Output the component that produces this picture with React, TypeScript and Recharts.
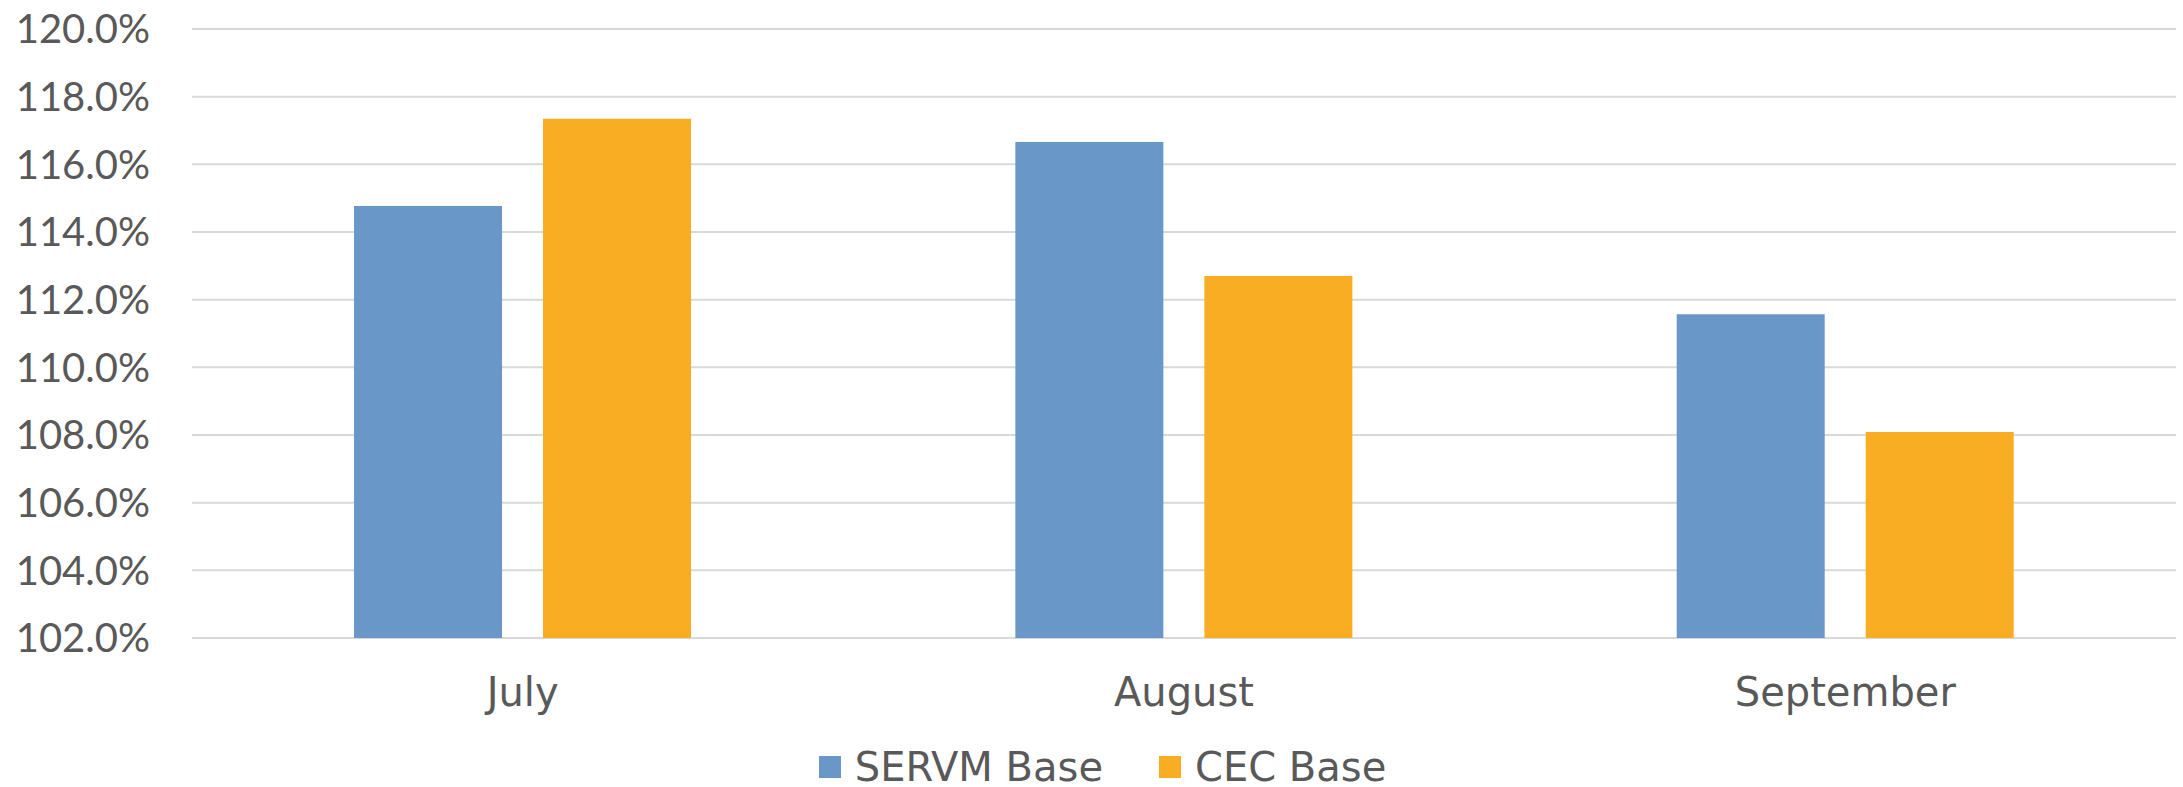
import { BarChart, Bar, XAxis, YAxis, CartesianGrid, Legend } from 'recharts';

const months = ['July', 'August', 'September'];
const seriesNames = ['SERVM Base', 'CEC Base'];
const servmBase = [1.1477, 1.1666, 1.1157];
const cecBase = [1.1735, 1.127, 1.0809];
const yTicks = [1.02, 1.04, 1.06, 1.08, 1.1, 1.12, 1.14, 1.16, 1.18, 1.2];

const data = months.map((month, i) => ({
  month,
  servm: servmBase[i],
  cec: cecBase[i],
}));

const FONT = 'Lato, "Open Sans", sans-serif';
const WIDE_FONT = '"DejaVu Sans", sans-serif';
const TEXT = '#595959';

const formatPct = (v: number) => `${(v * 100).toFixed(1)}%`;

// recharts 3 sorts legend items by name, put them back in series order
function LegendContent(props: any) {
  const items = [...(props.payload || [])].sort(
    (a: any, b: any) => seriesNames.indexOf(a.value) - seriesNames.indexOf(b.value)
  );
  return (
    <div
      style={{
        display: 'flex',
        justifyContent: 'center',
        alignItems: 'center',
        height: 40,
        paddingLeft: 29,
        fontFamily: WIDE_FONT,
        fontSize: 40,
        color: TEXT,
      }}
    >
      {items.map((item: any, i: number) => (
        <div key={i} style={{ display: 'flex', alignItems: 'center', marginRight: i === 0 ? 56 : 0 }}>
          <span style={{ width: 22, height: 22, background: item.color, display: 'inline-block', marginRight: 14 }} />
          <span style={{ lineHeight: '40px' }}>{item.value}</span>
        </div>
      ))}
    </div>
  );
}

export default function App() {
  return (
    <div style={{ width: 2183, height: 787, background: '#fff' }}>
      <style>{'body{margin:0}'}</style>
      <BarChart
        width={2183}
        height={787}
        data={data}
        margin={{ top: 29, right: 7, bottom: 0, left: 0 }}
        barCategoryGap="24.5%"
        barGap={41}
      >
        <CartesianGrid vertical={false} stroke="#D9D9D9" strokeWidth={2} />
        <XAxis
          dataKey="month"
          axisLine={false}
          tickLine={false}
          tickSize={0}
          tickMargin={40}
          height={109}
          tick={{ fill: TEXT, fontSize: 40, fontFamily: WIDE_FONT }}
        />
        <YAxis
          width={192}
          domain={[1.02, 1.2]}
          ticks={yTicks}
          tickFormatter={formatPct}
          axisLine={false}
          tickLine={false}
          tickSize={0}
          tickMargin={42}
          tick={{ fill: TEXT, fontSize: 40, fontFamily: FONT }}
        />
        <Legend verticalAlign="bottom" height={40} content={LegendContent} />
        <Bar dataKey="servm" name={seriesNames[0]} fill="#6897C8" isAnimationActive={false} />
        <Bar dataKey="cec" name={seriesNames[1]} fill="#F9AD22" isAnimationActive={false} />
      </BarChart>
    </div>
  );
}
